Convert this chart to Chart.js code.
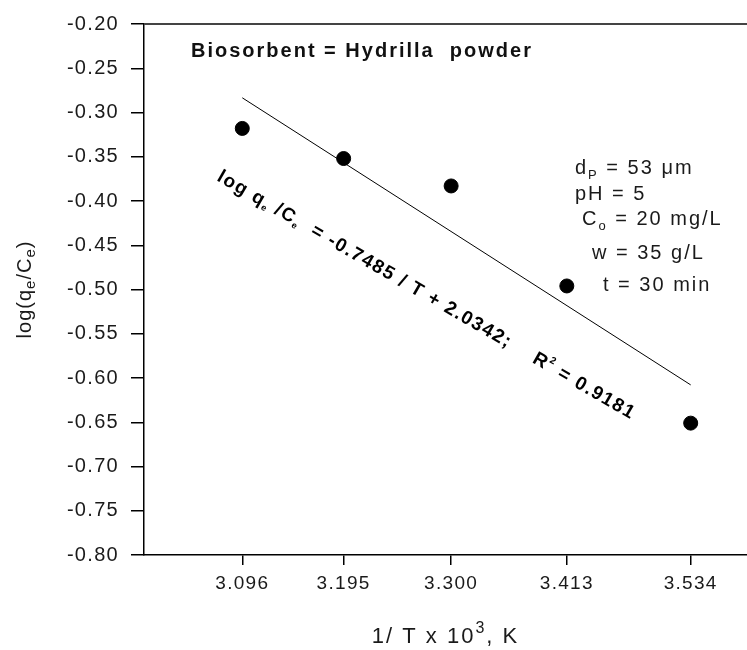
<!DOCTYPE html>
<html><head><meta charset="utf-8">
<script src="https://cdn.jsdelivr.net/npm/chart.js@4.4.0/dist/chart.umd.min.js"></script>
<style>html,body{margin:0;padding:0;background:#fff;overflow:hidden}#wrap{width:747px;height:650px;position:relative}</style>
</head><body><div id="wrap"><canvas id="c"></canvas></div>
<script>
// ---- data ----
const xTicks = [3.096, 3.195, 3.300, 3.413, 3.534];
const yTicks = [-0.80, -0.75, -0.70, -0.65, -0.60, -0.55, -0.50, -0.45, -0.40, -0.35, -0.30, -0.25, -0.20];
const invTemp = [3.096, 3.195, 3.300, 3.413, 3.534];
const logQeCe = [-0.318, -0.352, -0.383, -0.496, -0.651];
const fitX = [3.096, 3.534];
const fitY = [-0.2834, -0.6078];

const FAM = "'Liberation Sans', Arial, sans-serif";

function fnt(s){ return (s.b ? 'bold ' : '') + s.size + 'px ' + FAM; }
function richWidth(ctx, segs){ let w = 0; for (const s of segs){ ctx.font = fnt(s); w += ctx.measureText(s.t).width; } return w; }
function drawRich(ctx, x, y, segs){ for (const s of segs){ ctx.font = fnt(s); ctx.fillText(s.t, x, y + (s.dy || 0)); x += ctx.measureText(s.t).width; } }

const spacingPlugin = {
  id: 'spacing',
  beforeDraw(chart){ chart.ctx.letterSpacing = '1.3px'; },
  afterDraw(chart){ chart.ctx.letterSpacing = '0px'; }
};

const annoPlugin = {
  id: 'anno',
  afterDraw(chart){
    const ctx = chart.ctx, a = chart.chartArea;
    ctx.save();
    // top frame line
    ctx.strokeStyle = '#444'; ctx.lineWidth = 2;
    ctx.beginPath(); ctx.moveTo(a.left, a.top); ctx.lineTo(a.right, a.top); ctx.stroke();

    ctx.fillStyle = '#111'; ctx.textBaseline = 'alphabetic'; ctx.textAlign = 'left';
    ctx.letterSpacing = '2px';
    drawRich(ctx, 191, 57, [{t:'Biosorbent = Hydrilla  powder', size:20, b:true}]);

    ctx.fillStyle = '#1a1a1a';
    drawRich(ctx, 575, 174, [{t:'d', size:20},{t:'P', size:13, dy:5},{t:' = 53 \u03bcm', size:20}]);
    drawRich(ctx, 575, 200, [{t:'pH = 5', size:20}]);
    drawRich(ctx, 582, 225, [{t:'C', size:20},{t:'o', size:13, dy:5},{t:' = 20 mg/L', size:20}]);
    drawRich(ctx, 592, 259, [{t:'w = 35 g/L', size:20}]);
    drawRich(ctx, 603, 291, [{t:'t = 30 min', size:20}]);

    // x title
    ctx.letterSpacing = '2px';
    const xt = [{t:'1/ T x 10', size:22},{t:'3', size:16, dy:-10},{t:', K', size:22}];
    const xw = richWidth(ctx, xt);
    drawRich(ctx, (a.left + a.right)/2 - xw/2, 643, xt);

    // y title
    ctx.letterSpacing = '1px';
    const yt = [{t:'log(q', size:20},{t:'e', size:15, dy:4},{t:'/C', size:20},{t:'e', size:15, dy:4},{t:')', size:20}];
    const yw = richWidth(ctx, yt);
    ctx.save();
    ctx.translate(31, (a.top + a.bottom)/2);
    ctx.rotate(-Math.PI/2);
    drawRich(ctx, -yw/2, 0, yt);
    ctx.restore();

    // equation along fit line
    ctx.save();
    ctx.fillStyle = '#000';
    ctx.letterSpacing = '1.5px';
    ctx.translate(216, 180);
    ctx.rotate(30 * Math.PI/180);
    drawRich(ctx, 0, 0, [
      {t:'log q', size:19, b:true},{t:'e', size:9, b:true, dy:3},{t:' /C', size:19, b:true},{t:'e', size:9, b:true, dy:3},
      {t:'  = -0.7485 / T + 2.0342;    R', size:19, b:true},{t:'2', size:10, b:true, dy:-9},{t:' = 0.9181', size:19, b:true}
    ]);
    ctx.restore();
    ctx.restore();
  }
};

new Chart(document.getElementById('c'), {
  type: 'scatter',
  data: {
    datasets: [
      { label: 'data', data: invTemp.map((x, i) => ({x, y: logQeCe[i]})),
        pointRadius: 7, pointBorderWidth: 1, pointBackgroundColor: '#000', pointBorderColor: '#000', showLine: false },
      { label: 'fit', data: fitX.map((x, i) => ({x, y: fitY[i]})),
        showLine: true, borderColor: '#000', borderWidth: 1, pointRadius: 0, fill: false }
    ]
  },
  options: {
    responsive: true, maintainAspectRatio: false, animation: false, devicePixelRatio: 1,
    layout: { autoPadding: false, padding: { top: 20, right: 0, left: 0, bottom: 0 } },
    plugins: { legend: { display: false }, tooltip: { enabled: false } },
    scales: {
      x: {
        type: 'linear', min: 3.0, max: 3.589,
        afterBuildTicks: ax => { ax.ticks = xTicks.map(v => ({ value: v })); },
        afterFit: ax => { ax.height = 95; },
        grid: { drawOnChartArea: false, drawTicks: true, tickLength: 10, color: '#000', lineWidth: 1.5 },
        border: { display: true, color: '#000', width: 1.5 },
        ticks: { color: '#1a1a1a', font: { family: FAM, size: 19 }, padding: 7, maxRotation: 0, autoSkip: false,
                 callback: v => Number(v).toFixed(3) }
      },
      y: {
        type: 'linear', min: -0.80, max: -0.20,
        afterBuildTicks: ax => { ax.ticks = yTicks.map(v => ({ value: v })); },
        afterFit: ax => { ax.width = 144; },
        grid: { drawOnChartArea: false, drawTicks: true, tickLength: 13, color: '#000', lineWidth: 1.5 },
        border: { display: true, color: '#000', width: 1.5 },
        ticks: { color: '#1a1a1a', font: { family: FAM, size: 20 }, padding: 12, autoSkip: false,
                 callback: v => Number(v).toFixed(2) }
      }
    }
  },
  plugins: [spacingPlugin, annoPlugin]
});
</script>
</body></html>
